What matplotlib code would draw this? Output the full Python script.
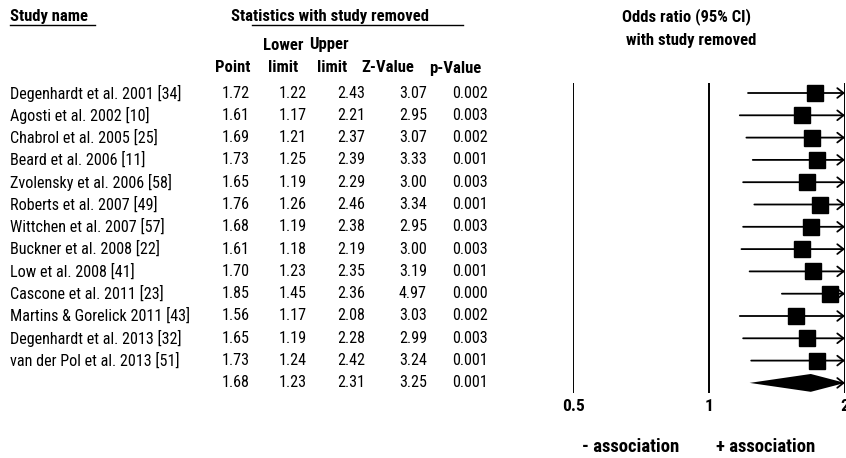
import matplotlib
matplotlib.use("Agg")
import matplotlib.pyplot as plt

plt.rcParams["font.family"] = ["Roboto Condensed", "DejaVu Sans"]

studies = [
    "Degenhardt et al. 2001 [34]",
    "Agosti et al. 2002 [10]",
    "Chabrol et al. 2005 [25]",
    "Beard et al. 2006 [11]",
    "Zvolensky et al. 2006 [58]",
    "Roberts et al. 2007 [49]",
    "Wittchen et al. 2007 [57]",
    "Buckner et al. 2008 [22]",
    "Low et al. 2008 [41]",
    "Cascone et al. 2011 [23]",
    "Martins & Gorelick 2011 [43]",
    "Degenhardt et al. 2013 [32]",
    "van der Pol et al. 2013 [51]",
]
point = [1.72, 1.61, 1.69, 1.73, 1.65, 1.76, 1.68, 1.61, 1.70, 1.85, 1.56, 1.65, 1.73]
lower = [1.22, 1.17, 1.21, 1.25, 1.19, 1.26, 1.19, 1.18, 1.23, 1.45, 1.17, 1.19, 1.24]
upper = [2.43, 2.21, 2.37, 2.39, 2.29, 2.46, 2.38, 2.19, 2.35, 2.36, 2.08, 2.28, 2.42]
zval = [3.07, 2.95, 3.07, 3.33, 3.00, 3.34, 2.95, 3.00, 3.19, 4.97, 3.03, 2.99, 3.24]
pval = [0.002, 0.003, 0.002, 0.001, 0.003, 0.001, 0.003, 0.003, 0.001, 0.000, 0.002, 0.003, 0.001]

summary = {"point": 1.68, "lower": 1.23, "upper": 2.31, "z": 3.25, "p": 0.001}

xticks = [0.5, 1, 2]
xticklabels = ["0.5", "1", "2"]

W, H = 846, 458
fig = plt.figure(figsize=(W / 100, H / 100), dpi=100)


def fx(px):
    return px / W


def fy(py):
    return 1 - py / H


ROW0, ROWH = 93, 22.3
FS = 11.6
HFS = 12


def row_y(i):
    return ROW0 + ROWH * i


# column headers
fig.text(fx(10), fy(17), "Study name", fontsize=HFS, fontweight="bold", va="center", ha="left")
fig.add_artist(plt.Line2D([fx(10), fx(95)], [fy(25), fy(25)], color="black", lw=1.0))
fig.text(fx(330), fy(17), "Statistics with study removed", fontsize=HFS, fontweight="bold",
         va="center", ha="center")
fig.add_artist(plt.Line2D([fx(252), fx(463)], [fy(25), fy(25)], color="black", lw=1.0))

hdr1 = [("Lower", 283), ("Upper", 329)]
hdr2 = [("Point", 233), ("limit", 283), ("limit", 332), ("Z-Value", 388), ("p-Value", 455)]
for t, x in hdr1:
    fig.text(fx(x), fy(45), t, fontsize=HFS, fontweight="bold", va="center", ha="center")
for t, x in hdr2:
    fig.text(fx(x), fy(68), t, fontsize=HFS, fontweight="bold", va="center", ha="center")

fig.text(fx(686), fy(17), "Odds ratio (95% CI)", fontsize=HFS, fontweight="bold", va="center", ha="center")
fig.text(fx(691), fy(40), "with study removed", fontsize=HFS, fontweight="bold", va="center", ha="center")

# table body
col_right = [250, 307, 365, 427, 488]
for i, name in enumerate(studies):
    y = fy(row_y(i))
    fig.text(fx(10), y, name, fontsize=FS, va="center", ha="left")
    vals = [f"{point[i]:.2f}", f"{lower[i]:.2f}", f"{upper[i]:.2f}", f"{zval[i]:.2f}", f"{pval[i]:.3f}"]
    for v, x in zip(vals, col_right):
        fig.text(fx(x), y, v, fontsize=FS, va="center", ha="right")

ys = fy(row_y(len(studies)))
svals = [f"{summary['point']:.2f}", f"{summary['lower']:.2f}", f"{summary['upper']:.2f}",
         f"{summary['z']:.2f}", f"{summary['p']:.3f}"]
for v, x in zip(svals, col_right):
    fig.text(fx(x), ys, v, fontsize=FS, va="center", ha="right")

# forest panel
top_px, bot_px, left_px, right_px = 83, 393, 573, 845
ax = fig.add_axes([fx(left_px), fy(bot_px), fx(right_px - left_px), (bot_px - top_px) / H])
ax.set_xscale("log")
ax.set_xlim(0.5, 2)
ax.set_ylim((bot_px - ROW0) / ROWH, (top_px - ROW0) / ROWH)
for s in ax.spines.values():
    s.set_visible(False)
ax.set_yticks([])
ax.minorticks_off()
ax.set_xticks(xticks)
ax.set_xticklabels(xticklabels, fontsize=12.5, fontweight="bold")
ax.tick_params(axis="x", length=0, pad=4)
for lab in ax.get_xticklabels():
    lab.set_clip_on(False)

for x in xticks:
    ax.axvline(x, color="black", lw=1.4, zorder=1)

arrow = dict(arrowstyle="->,head_length=0.45,head_width=0.35",
             color="black", lw=1.3, shrinkA=0, shrinkB=0)
xmax = ax.get_xlim()[1]
for i in range(len(studies)):
    if upper[i] > xmax:
        ax.annotate("", xy=(xmax, i), xytext=(lower[i], i), arrowprops=arrow,
                    annotation_clip=False)
    else:
        ax.hlines(i, lower[i], upper[i], color="black", lw=1.3)
    ax.plot(point[i], i, marker="s", markersize=12, color="black", zorder=3)

n = len(studies)
dh = 0.4
shi = min(summary["upper"], xmax)
ax.fill([summary["lower"], summary["point"], shi, summary["point"]],
        [n, n - dh, n, n + dh], color="black", lw=0, zorder=3)
if summary["upper"] > xmax:
    ax.annotate("", xy=(xmax, n), xytext=(summary["point"], n), arrowprops=arrow,
                annotation_clip=False)

fig.text(fx(631), fy(447), "- association", fontsize=13.5, fontweight="bold", va="center", ha="center")
fig.text(fx(766), fy(447), "+ association", fontsize=13.5, fontweight="bold", va="center", ha="center")

fig.savefig("out.png", dpi=100)
